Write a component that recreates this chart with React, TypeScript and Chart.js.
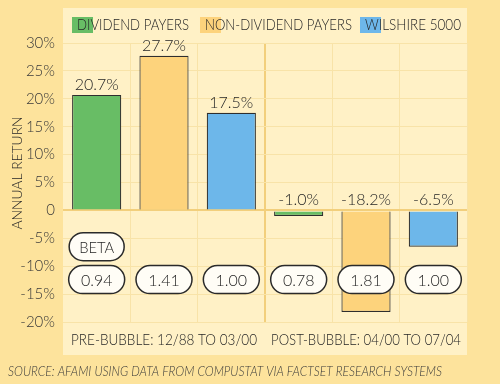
import React, { useEffect, useRef } from "react";
import { Chart, registerables } from "chart.js";

Chart.register(...registerables);

const categories = ["Pre Dividend", "Pre Non-Dividend", "Pre Wilshire", "Post Dividend", "Post Non-Dividend", "Post Wilshire"];
const returns = [20.7, 27.7, 17.5, -1.0, -18.2, -6.5];
const betas = ["0.94", "1.41", "1.00", "0.78", "1.81", "1.00"];
const seriesNames = ["DIVIDEND PAYERS", "NON-DIVIDEND PAYERS", "WILSHIRE 5000"];
const periodLabels = ["PRE-BUBBLE: 12/88 TO 03/00", "POST-BUBBLE: 04/00 TO 07/04"];
const yTicks = [30, 25, 20, 15, 10, 5, 0, -5, -10, -15, -20];
const sourceText = "SOURCE: AFAMI USING DATA FROM COMPUSTAT VIA FACTSET RESEARCH SYSTEMS";

const COLORS = ["#68bd65", "#fdd37c", "#6db7ea"];
const OUTER = "#fde39c";
const PANEL = "#fff1c6";
const GRID = "#f8e3a8";
const DIVIDER = "#f2cf7c";
const TEXT = "#262626";
const FONT = "Lato, 'Open Sans', sans-serif";

function pill(ctx: CanvasRenderingContext2D, cx: number, cy: number, w: number, h: number, label: string) {
  const r = h / 2;
  const x = cx - w / 2;
  const y = cy - h / 2;
  ctx.beginPath();
  ctx.moveTo(x + r, y);
  ctx.lineTo(x + w - r, y);
  ctx.arc(x + w - r, cy, r, -Math.PI / 2, Math.PI / 2);
  ctx.lineTo(x + r, y + h);
  ctx.arc(x + r, cy, r, Math.PI / 2, (3 * Math.PI) / 2);
  ctx.closePath();
  ctx.fillStyle = "#fffdf6";
  ctx.fill();
  ctx.lineWidth = 1.5;
  ctx.strokeStyle = "#2a2a2a";
  ctx.stroke();
  ctx.fillStyle = TEXT;
  ctx.font = `300 16px ${FONT}`;
  ctx.textAlign = "center";
  ctx.textBaseline = "middle";
  ctx.fillText(label, cx, cy + 1, label === "BETA" ? 35 : 33);
}

const decor = {
  id: "decor",
  beforeDraw(chart: any) {
    const { ctx, chartArea } = chart;
    ctx.save();
    ctx.fillStyle = OUTER;
    ctx.fillRect(0, 0, chart.width, chart.height);
    ctx.fillStyle = PANEL;
    ctx.fillRect(chartArea.left, 8, chartArea.right - chartArea.left, 347);
    ctx.restore();
  },
  afterDraw(chart: any) {
    const { ctx, scales } = chart;
    const xs = scales.x;
    const ys = scales.y;
    ctx.save();
    // legend
    const legendX = [72, 200, 360];
    const legendW = [112, 147, 96];
    ctx.font = `300 15px ${FONT}`;
    ctx.textBaseline = "middle";
    ctx.textAlign = "left";
    seriesNames.forEach((n, i) => {
      ctx.fillStyle = COLORS[i];
      ctx.fillRect(legendX[i], 17, 21, 16);
      ctx.fillStyle = TEXT;
      ctx.fillText(n, legendX[i] + 5, 25.5, legendW[i]);
    });
    // value labels
    ctx.font = `300 16px ${FONT}`;
    ctx.textAlign = "center";
    ctx.textBaseline = "alphabetic";
    returns.forEach((v, i) => {
      const cx = xs.getPixelForValue(i);
      const top = ys.getPixelForValue(Math.max(v, 0));
      const t = v.toFixed(1) + "%";
      ctx.fillStyle = TEXT;
      ctx.fillText(t, cx, top - 5, t.length * 8.8);
    });
    // beta pills
    pill(ctx, xs.getPixelForValue(0), ys.getPixelForValue(-6.5), 55, 28, "BETA");
    betas.forEach((b, i) => {
      pill(ctx, xs.getPixelForValue(i), ys.getPixelForValue(-12.4), 56, 28, b);
    });
    // period labels
    ctx.font = `300 15px ${FONT}`;
    ctx.fillStyle = TEXT;
    ctx.textAlign = "center";
    ctx.textBaseline = "middle";
    const leftMid = (xs.getPixelForValue(0) + xs.getPixelForValue(2)) / 2;
    const rightMid = (xs.getPixelForValue(3) + xs.getPixelForValue(5)) / 2;
    ctx.fillText(periodLabels[0], leftMid, 340, 186);
    ctx.fillText(periodLabels[1], rightMid, 340, 190);
    // source
    ctx.font = `italic 300 14px ${FONT}`;
    ctx.textAlign = "left";
    ctx.fillStyle = "#3a3a3a";
    ctx.fillText(sourceText, 8, 371, 434);
    // y title
    ctx.translate(17, 173);
    ctx.rotate(-Math.PI / 2);
    ctx.font = `300 14px ${FONT}`;
    ctx.textAlign = "center";
    ctx.fillStyle = TEXT;
    ctx.fillText("ANNUAL RETURN", 0, 0, 113);
    ctx.restore();
  },
};

export default function App() {
  const ref = useRef<HTMLCanvasElement>(null);
  useEffect(() => {
    if (!ref.current) return;
    const barColors = categories.map((_, i) => COLORS[i % 3]);
    const chart = new Chart(ref.current, {
      type: "bar",
      data: {
        labels: categories,
        datasets: [
          {
            data: returns,
            backgroundColor: barColors,
            borderColor: "#2e2e2e",
            borderWidth: 1.2,
            barPercentage: 0.73,
            categoryPercentage: 1,
          },
        ],
      },
      options: {
        animation: false,
        responsive: false,
        maintainAspectRatio: false,
        layout: { padding: { left: 0, right: 33, top: 43, bottom: 0 } },
        plugins: { legend: { display: false }, tooltip: { enabled: false } },
        scales: {
          x: {
            grid: {
              offset: true,
              drawTicks: false,
              color: (c: any) => (c.index === 3 ? DIVIDER : c.index === 0 || c.index === 6 ? "rgba(0,0,0,0)" : GRID),
              lineWidth: (c: any) => (c.index === 3 ? 2 : 1),
            },
            border: { display: false },
            ticks: { display: false },
            afterFit: (s: any) => {
              s.height = 62;
            },
          },
          y: {
            min: -20,
            max: 30,
            afterBuildTicks: (s: any) => {
              s.ticks = yTicks.map((v) => ({ value: v }));
            },
            grid: {
              drawTicks: false,
              color: (c: any) => (c.tick && c.tick.value === 0 ? DIVIDER : GRID),
              lineWidth: (c: any) => (c.tick && c.tick.value === 0 ? 2 : 1),
            },
            border: { display: false },
            ticks: {
              padding: 8,
              color: "#3a3a3a",
              font: { family: FONT, size: 15, weight: 300 },
              callback: (v: any) => (v === 0 ? "0" : v + "%"),
            },
            afterFit: (s: any) => {
              s.width = 63;
            },
          },
        },
      },
      plugins: [decor],
    });
    return () => chart.destroy();
  }, []);
  return (
    <div style={{ position: "fixed", left: 0, top: 0, width: 500, height: 384 }}>
      <canvas ref={ref} width={500} height={384} style={{ width: 500, height: 384 }} />
    </div>
  );
}
